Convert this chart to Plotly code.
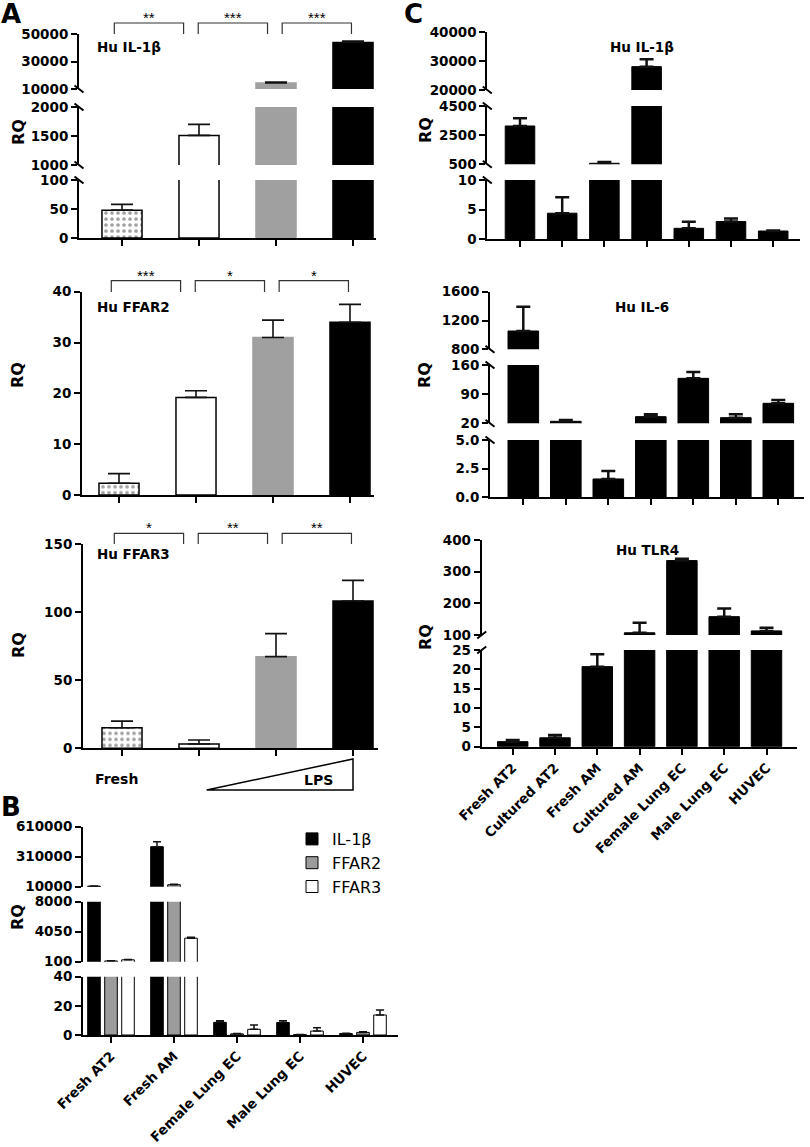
import plotly.graph_objects as go

W, H = 810, 1147
FONT = "DejaVu Sans"

# ---------------- Data ----------------
A_conditions = ["Fresh", "LPS 0", "LPS low", "LPS high"]
A_il1b = [48, 1510, 14400, 43900]
A_il1b_err = [10, 190, 700, 1000]
A_ffar2 = [2.3, 19.2, 31.0, 34.0]
A_ffar2_err = [1.9, 1.3, 3.4, 3.5]
A_ffar3 = [15.1, 3.2, 67.4, 108.3]
A_ffar3_err = [4.9, 2.9, 16.9, 15.2]
A_il1b_sig = ["**", "***", "***"]
A_ffar2_sig = ["***", "*", "*"]
A_ffar3_sig = ["*", "**", "**"]
A_colors = ["white", "white", "#a0a0a0", "black"]
A_edges = ["black", "black", "#a0a0a0", "black"]
A_patterns = [".", "", "", ""]

B_cells = ["Fresh AT2", "Fresh AM", "Female Lung EC", "Male Lung EC", "HUVEC"]
B_genes = ["IL-1β", "FFAR2", "FFAR3"]
B_il1b = [16000, 410000, 8.7, 8.6, 1.0]
B_il1b_err = [1500, 50000, 1.1, 1.2, 0.2]
B_ffar2 = [200, 30000, 0.8, 0.3, 1.8]
B_ffar2_err = [30, 5000, 0.2, 0.1, 0.5]
B_ffar3 = [350, 3200, 3.9, 2.7, 13.7]
B_ffar3_err = [40, 120, 3.0, 2.3, 3.4]
B_colors = ["black", "#9c9c9c", "white"]

C_cells = ["Fresh AT2", "Cultured AT2", "Fresh AM", "Cultured AM",
           "Female Lung EC", "Male Lung EC", "HUVEC"]
C_il1b = [3130, 4.4, 570, 28100, 1.85, 3.0, 1.4]
C_il1b_err = [530, 2.7, 90, 2600, 1.1, 0.5, 0.1]
C_il6 = [1054, 24.8, 1.6, 36, 128, 33.5, 68]
C_il6_err = [338, 3.2, 0.7, 6, 15, 8, 8]
C_tlr4 = [1.3, 2.3, 20.7, 107, 335, 158, 113]
C_tlr4_err = [0.4, 0.7, 3.2, 32, 6, 26, 10]

# broken-axis segments: tick labels per segment (bottom -> top)
A_il1b_ticks = [["0", "50", "100"], ["1000", "1500", "2000"], ["10000", "30000", "50000"]]
A_ffar2_ticks = [["0", "10", "20", "30", "40"]]
A_ffar3_ticks = [["0", "50", "100", "150"]]
B_ticks = [["0", "20", "40"], ["100", "4050", "8000"], ["10000", "310000", "610000"]]
C_il1b_ticks = [["0", "5", "10"], ["500", "2500", "4500"], ["20000", "30000", "40000"]]
C_il6_ticks = [["0.0", "2.5", "5.0"], ["20", "90", "160"], ["800", "1200", "1600"]]
C_tlr4_ticks = [["0", "5", "10", "15", "20", "25"], ["100", "200", "300", "400"]]

# ---------------- Helpers ----------------
layout = dict(width=W, height=H, autosize=False, margin=dict(l=0, r=0, t=0, b=0, pad=0),
              plot_bgcolor="white", paper_bgcolor="white", barmode="overlay",
              font=dict(family=FONT, color="black"),
              annotations=[], shapes=[], showlegend=True)
traces = []
counters = {"x": 0, "y": 0}


def fx(p):
    return p / W


def fy(p):
    return 1 - p / H


def new_axis(kind):
    counters[kind] += 1
    n = counters[kind]
    return (kind if n == 1 else f"{kind}{n}"), (f"{kind}axis" if n == 1 else f"{kind}axis{n}")


def base_axis():
    return dict(showline=True, linecolor="black", linewidth=2, ticks="outside",
                ticklen=6, tickwidth=2, tickcolor="black", showgrid=False,
                zeroline=False, fixedrange=True, automargin=False,
                tickfont=dict(family=FONT, size=13.5, color="black", weight="bold"))


def make_panel(axis_px, end_px, cat0_px, step_px, n, tick_sets, seg_px,
               xlabels=None, slash=1, breaks=True):
    xref, xkey = new_axis("x")
    segs = []
    for ticks, (b, t) in zip(tick_sets, seg_px):
        yref, ykey = new_axis("y")
        vals = [float(s) for s in ticks]
        ax = base_axis()
        ax.update(domain=[fy(b), fy(t)], range=[vals[0], vals[-1]], anchor=xref,
                  tickvals=vals, ticktext=ticks)
        layout[ykey] = ax
        segs.append((yref, vals[0]))
    ax = base_axis()
    ax.update(domain=[fx(axis_px), fx(end_px)],
              range=[(axis_px - cat0_px) / step_px, (end_px - cat0_px) / step_px],
              anchor=segs[0][0], tickvals=list(range(n)),
              ticktext=xlabels if xlabels else [""] * n,
              tickangle=-45 if xlabels else 0)
    layout[xkey] = ax
    if breaks:
        for k in range(len(seg_px) - 1):
            for ypx in (seg_px[k][1], seg_px[k + 1][0]):
                layout["shapes"].append(dict(
                    type="line", xref="paper", yref="paper",
                    x0=fx(axis_px - 4.5), x1=fx(axis_px + 4.5),
                    y0=fy(ypx - 3.5 * slash), y1=fy(ypx + 3.5 * slash),
                    line=dict(color="black", width=2)))
    return xref, segs


def add_bars(xref, segs, x, y, err, color, edge, edge_w, width, cap, thick,
             pattern=None, name=None, legend=False):
    for k, (yref, lo) in enumerate(segs):
        # a bar only appears in a segment that its value reaches
        yk = [v if (k == 0 or v > lo) else None for v in y]
        marker = dict(color=color, line=dict(color=edge, width=edge_w))
        if pattern is not None:
            marker["pattern"] = pattern
        traces.append(go.Bar(
            x=x, y=yk, width=width, xaxis=xref, yaxis=yref, marker=marker,
            error_y=dict(type="data", symmetric=False, array=err,
                         arrayminus=[0] * len(err), color="#111",
                         thickness=thick, width=cap),
            name=name, showlegend=(legend and k == 0), hoverinfo="skip"))


def add_text(xpx, ypx, s, size, bold=True, xanchor="left", rot=0):
    layout["annotations"].append(dict(
        x=fx(xpx), y=fy(ypx), xref="paper", yref="paper", text=s,
        showarrow=False, xanchor=xanchor, yanchor="middle", textangle=rot,
        font=dict(family=FONT, size=size, color="black",
                  weight="bold" if bold else "normal")))


def add_sig(xref, sigs, top_px, leg_px):
    for k, s in enumerate(sigs):
        x0 = -0.1 + 1.09 * k
        x1 = x0 + 0.9
        layout["shapes"].append(dict(
            type="path", xref=xref, yref="paper",
            path=f"M {x0},{fy(leg_px)} L {x0},{fy(top_px)} L {x1},{fy(top_px)} L {x1},{fy(leg_px)}",
            line=dict(color="#333", width=1.2)))
        layout["annotations"].append(dict(
            x=(x0 + x1) / 2, xref=xref, y=fy(top_px), yref="paper", text=s,
            showarrow=False, xanchor="center", yanchor="bottom", yshift=-5,
            font=dict(family="Liberation Sans", size=15, color="black")))


A_pattern = dict(shape=A_patterns, fgcolor="black", size=6, solidity=0.3)
nA = len(A_conditions)
xA = list(range(nA))

# ---------------- Panel A ----------------
xr, sg = make_panel(79, 376, 122, 77, nA, A_il1b_ticks,
                    [(238, 180), (165, 107), (89, 34)])
add_bars(xr, sg, xA, A_il1b, A_il1b_err, A_colors, A_edges, 1.5, 0.52, 11, 1.6,
         pattern=A_pattern)
add_sig(xr, A_il1b_sig, 23, 34)
add_text(95, 47, "Hu IL-1β", 13.5)
add_text(18, 132, "RQ", 16, xanchor="center", rot=-90)

xr, sg = make_panel(82, 374, 119, 77, nA, A_ffar2_ticks, [(495, 291.7)])
add_bars(xr, sg, xA, A_ffar2, A_ffar2_err, A_colors, A_edges, 1.5, 0.52, 11, 1.6,
         pattern=A_pattern)
add_sig(xr, A_ffar2_sig, 280.7, 292)
add_text(95, 307, "Hu FFAR2", 13.5)
add_text(18, 375, "RQ", 16, xanchor="center", rot=-90)

xr, sg = make_panel(83, 378, 122, 77, nA, A_ffar3_ticks, [(748.3, 544.3)])
add_bars(xr, sg, xA, A_ffar3, A_ffar3_err, A_colors, A_edges, 1.5, 0.52, 11, 1.6,
         pattern=A_pattern)
add_sig(xr, A_ffar3_sig, 533.3, 544)
add_text(95, 554, "Hu FFAR3", 13.5)
add_text(18, 645, "RQ", 16, xanchor="center", rot=-90)
# LPS gradient triangle and group labels
layout["shapes"].append(dict(
    type="path", xref=xr, yref="paper",
    path=f"M 1.1,{fy(790)} L 3.0,{fy(759)} L 3.0,{fy(790)} Z",
    line=dict(color="black", width=1.5)))
layout["annotations"].append(dict(
    x=0, xref=xr, y=fy(779), yref="paper", text=A_conditions[0], showarrow=False,
    xanchor="center", yanchor="middle", xshift=-6,
    font=dict(family=FONT, size=14, color="black", weight="bold")))
layout["annotations"].append(dict(
    x=3, xref=xr, y=fy(780), yref="paper", text="LPS", showarrow=False,
    xanchor="right", yanchor="middle", xshift=-18,
    font=dict(family=FONT, size=14, color="black", weight="bold")))

# ---------------- Panel B ----------------
xr, sg = make_panel(83, 398, 111, 63, len(B_cells), B_ticks,
                    [(1035, 976.7), (961.7, 901.7), (886.7, 826.7)],
                    xlabels=B_cells, breaks=False)
B_series = [(B_il1b, B_il1b_err), (B_ffar2, B_ffar2_err), (B_ffar3, B_ffar3_err)]
for g, ((vals, errs), col) in enumerate(zip(B_series, B_colors)):
    xs = [i + (g - 1) * 0.27 for i in range(len(B_cells))]
    add_bars(xr, sg, xs, vals, errs, col, "black", 1, 0.2, 4, 1.5,
             name=B_genes[g], legend=True)
add_text(17, 917, "RQ", 16, xanchor="center", rot=-90)
layout["legend"] = dict(x=fx(292), y=fy(822), xanchor="left", yanchor="top",
                        font=dict(family=FONT, size=16, color="black"),
                        bgcolor="rgba(0,0,0,0)", tracegroupgap=4)

# ---------------- Panel C ----------------
nC = len(C_cells)
xC = list(range(nC))
xr, sg = make_panel(487.3, 800, 520, 42.2, nC, C_il1b_ticks,
                    [(239.3, 180), (164.3, 106), (90, 32.3)])
add_bars(xr, sg, xC, C_il1b, C_il1b_err, "black", "black", 1, 0.7, 7, 2.5)
add_text(642, 47, "Hu IL-1β", 13.5, xanchor="center")
add_text(425, 130, "RQ", 16, xanchor="center", rot=-90)

xr, sg = make_panel(490, 804, 523.3, 42.5, nC, C_il6_ticks,
                    [(497.3, 440), (423.3, 365), (349.3, 291.7)])
add_bars(xr, sg, xC, C_il6, C_il6_err, "black", "black", 1, 0.72, 7, 2.5)
add_text(642, 307, "Hu IL-6", 13.5, xanchor="center")
add_text(425, 375, "RQ", 16, xanchor="center", rot=-90)

xr, sg = make_panel(481.7, 797, 512.7, 42.3, nC, C_tlr4_ticks,
                    [(746.7, 650), (635, 540)], xlabels=C_cells, slash=-1)
add_bars(xr, sg, xC, C_tlr4, C_tlr4_err, "black", "black", 1, 0.72, 7, 2.5)
add_text(647, 550, "Hu TLR4", 13.5, xanchor="center")
add_text(425, 637, "RQ", 16, xanchor="center", rot=-90)

# panel letters
add_text(11, 14, "A", 26, xanchor="center")
add_text(11, 807, "B", 26, xanchor="center")
add_text(413, 14, "C", 26, xanchor="center")

fig = go.Figure(data=traces, layout=layout)
fig.write_html("out.html", config={"displayModeBar": False},
               post_script="document.body.style.margin='0';document.body.style.overflow='hidden';")
